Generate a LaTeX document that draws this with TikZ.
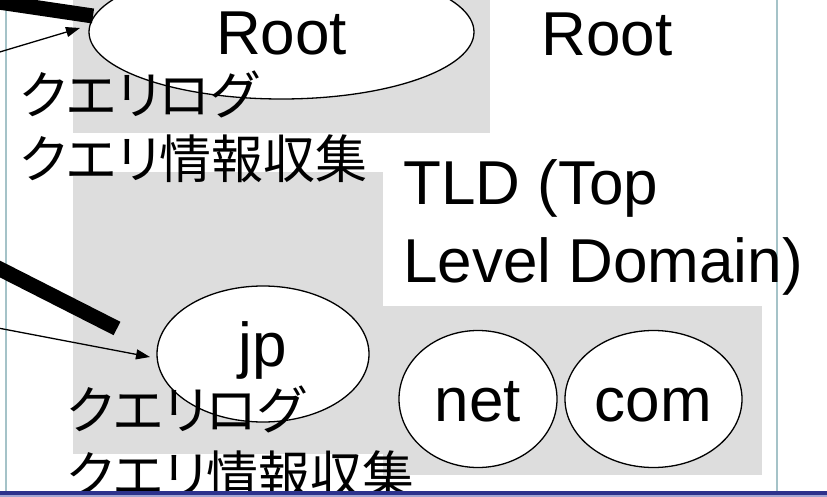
\documentclass[tikz,border=0pt]{standalone}
\usepackage{fontspec}
\setmainfont{Liberation Sans}
\newfontfamily\jfont[RawFeature=+palt]{Noto Sans CJK JP}
\usetikzlibrary{shapes.geometric,arrows.meta}
\definecolor{bggray}{RGB}{221,221,221}
\definecolor{rulegray}{RGB}{165,195,200}
\definecolor{barnavy}{RGB}{45,50,140}
\definecolor{barlight}{RGB}{160,165,210}
\begin{document}
\begin{tikzpicture}[x=1pt,y=-1pt,
  bigtext/.style={font=\fontsize{62}{77}\selectfont, inner sep=0pt},
  jtext/.style={font=\jfont\fontsize{52}{64}\selectfont, inner sep=0pt, anchor=base west},
  oval/.style={ellipse, draw=black, line width=1.3pt, fill=white, inner sep=0pt,
    font=\fontsize{62}{77}\selectfont, text height=44.4pt, text depth=0pt},
  heavyline/.style={line width=15pt, line cap=butt},
  pointer/.style={line width=1.3pt, -{Triangle[length=14pt,width=10pt]}},
  shade/.style={fill=bggray, draw=none}]
\useasboundingbox (0,0) rectangle (827,497);
% grey backgrounds
\fill[shade] (73,0) rectangle (490,133);
\fill[shade] (73,172) rectangle (383,454);
\fill[shade] (383,306) rectangle (762,475);
% thin vertical rules
\draw[rulegray, line width=1.5pt] (6,0) -- (6,491);
\draw[rulegray, line width=1.5pt] (777,0) -- (777,491);
% ellipses
\node[oval, minimum width=385pt, minimum height=134pt] (root) at (281.5,32) {Root};
\node[oval, minimum width=212pt, minimum height=136pt, text depth=18.6pt] (jp) at (263,354) {jp};
\node[oval, minimum width=158pt, minimum height=137pt] (net) at (478,399) {net};
\node[oval, minimum width=177pt, minimum height=137pt] (com) at (653.5,399) {com};
% plain labels
\node[bigtext, text height=44.4pt, text depth=0pt] (root2) at (607,33) {Root};
\node[bigtext, anchor=base west] (tld1) at (403,205) {TLD (Top};
\node[bigtext, anchor=base west] (tld2) at (403,282) {Level Domain)};
\node[jtext] (qa1) at (20,115) {クエリログ};
\node[jtext] (qa2) at (20,179) {クエリ情報収集};
\node[jtext] (qb1) at (67,429) {クエリログ};
\node[jtext] (qb2) at (67,494) {クエリ情報収集};
% connectors
\coordinate (h1s) at (-5,1.5);
\coordinate (h1e) at (93,16);
\draw[heavyline] (h1s) -- (h1e);
\coordinate (p1s) at (-2,52.5);
\coordinate (p1e) at (80,28);
\draw[pointer] (p1s) -- (p1e);
\coordinate (h2s) at (-5,266.5);
\coordinate (h2e) at (117,328.5);
\draw[heavyline] (h2s) -- (h2e);
\coordinate (p2s) at (-2,328);
\coordinate (p2e) at (150,357);
\draw[pointer] (p2s) -- (p2e);
% bottom bar
\fill[barnavy] (0,491) rectangle (827,495);
\fill[barlight] (0,495) rectangle (827,497);
\end{tikzpicture}
\end{document}
